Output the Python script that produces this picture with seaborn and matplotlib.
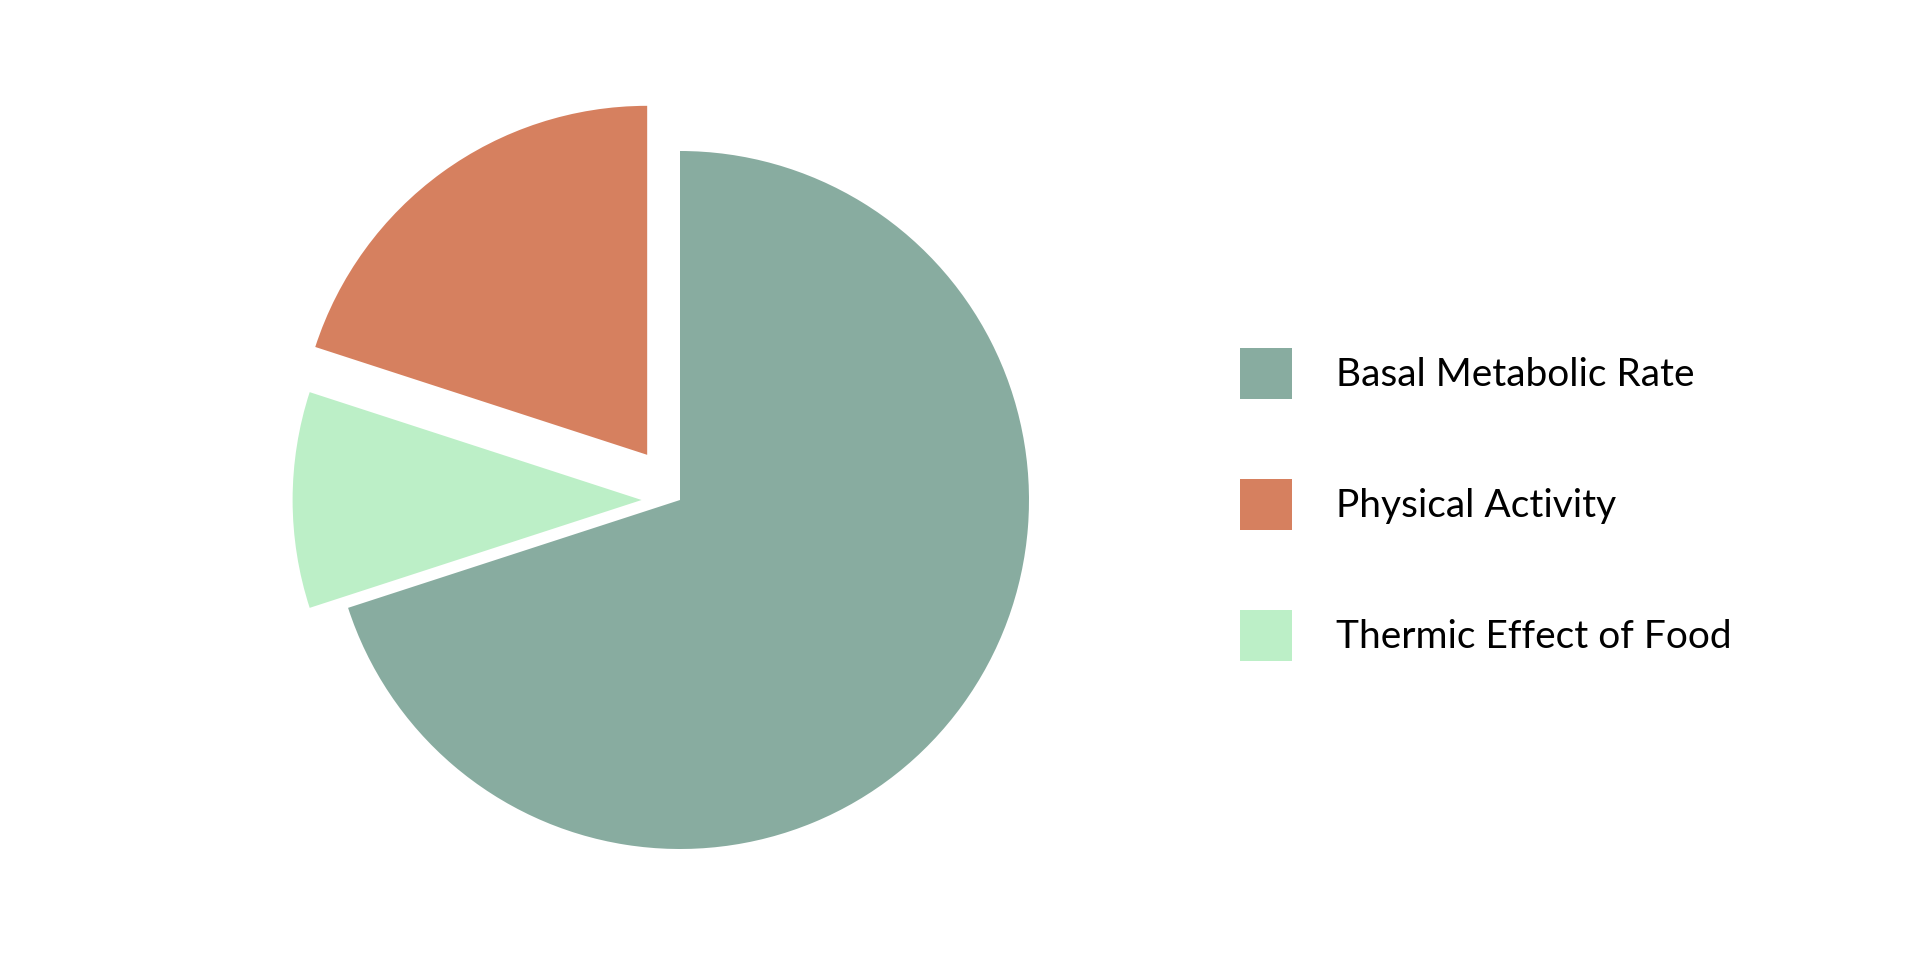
import matplotlib
matplotlib.use("Agg")
import matplotlib.pyplot as plt
import seaborn as sns
from matplotlib.patches import Patch

# energy expenditure split
categories = ["Basal Metabolic Rate", "Physical Activity", "Thermic Effect of Food"]
shares = [70, 20, 10]
pulls = [0, 0.16, 0.11]
colors = ["#88aca0", "#d6805f", "#bcefc7"]

sns.set_theme(style="white")
plt.rcParams["font.family"] = ["Lato", "DejaVu Sans"]

fig = plt.figure(figsize=(19.2, 9.56), dpi=100)
# square axes around the pie, 800x800 px
ax = fig.add_axes([280 / 1920, 56 / 956, 800 / 1920, 800 / 956])

# big slice runs from the lower left round to the top, the rest follow counter-clockwise
wedges, _ = ax.pie(shares, colors=colors, explode=pulls, startangle=-162,
                   counterclock=True, radius=1,
                   wedgeprops=dict(linewidth=0))
lim = 400 / 349
ax.set_xlim(-lim, lim)
ax.set_ylim(-lim, lim)
ax.set_aspect("equal")
ax.axis("off")
for w in wedges:
    w.set_clip_on(False)

handles = [Patch(facecolor=c, edgecolor="none") for c in colors]
fs = 28
fig.legend(handles, categories, loc="center left",
           bbox_to_anchor=(1240 / 1920, 0.472), bbox_transform=fig.transFigure,
           frameon=False, fontsize=fs, handlelength=1.33, handleheight=1.65,
           handletextpad=1.15, labelspacing=2.05, borderpad=0, borderaxespad=0,
           labelcolor="black")

fig.savefig("out.png", dpi=100, facecolor="white")
